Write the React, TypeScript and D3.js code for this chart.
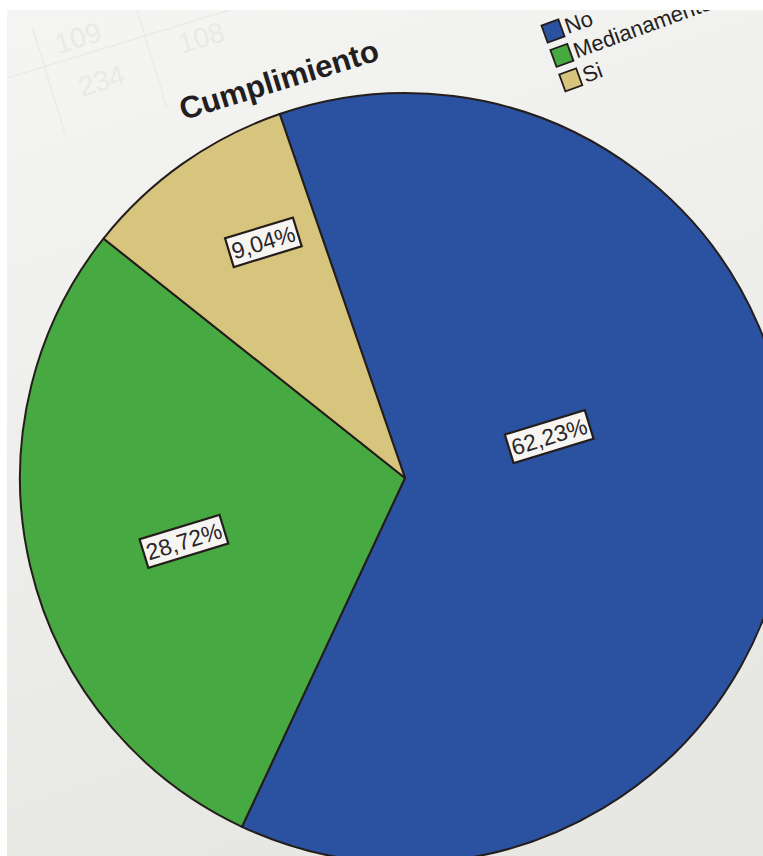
import React from "react";
import * as d3 from "d3";

const categories = ["No", "Medianamente", "Si"];
const percentages = [62.23, 28.72, 9.04];
const valueLabels = ["62,23%", "28,72%", "9,04%"];
const sliceColors = ["#2b52a1", "#47a941", "#d7c57d"];
const chartTitle = "Cumplimiento";

const W = 763;
const H = 856;
const CX = 405;
const CY = 478;
const R = 385;
const TILT = -17;
const START = -19;

// label placement (layout constants)
const labelAngles = [74, 254, 329];
const labelRadii = [150, 230, 275];

export default function App() {
  const rad = (d: number) => (d * Math.PI) / 180;
  const pie = d3
    .pie<number>()
    .value((d) => d)
    .sort(null)
    .startAngle(rad(START))
    .endAngle(rad(START + 360));
  const arcs = pie(percentages);
  const arc = d3.arc<d3.PieArcDatum<number>>().innerRadius(0).outerRadius(R);

  return (
    <svg
      width={W}
      height={H}
      style={{ position: "absolute", left: 0, top: 0 }}
      fontFamily="'Liberation Sans', Arial, sans-serif"
    >
      <defs>
        <linearGradient id="paper" x1="0" y1="0" x2="0.3" y2="1">
          <stop offset="0" stopColor="#f5f5f3" />
          <stop offset="1" stopColor="#e7e7e4" />
        </linearGradient>
      </defs>
      <rect width={W} height={H} fill="url(#paper)" />
      {/* faint show-through table */}
      <g transform={`rotate(${TILT} 100 60)`} stroke="#ebebe8" strokeWidth={1.5} fill="none">
        <line x1={0} y1={50} x2={300} y2={50} />
        <line x1={45} y1={10} x2={45} y2={125} />
        <line x1={150} y1={10} x2={150} y2={125} />
      </g>
      <g transform={`rotate(${TILT} 100 60)`} fill="#e9e9e6" fontSize={28}>
        <text x={62} y={42}>109</text>
        <text x={72} y={90}>234</text>
        <text x={180} y={78}>108</text>
      </g>

      <g transform={`translate(${CX},${CY})`}>
        {arcs.map((a, i) => (
          <path key={categories[i]} d={arc(a) || ""} fill={sliceColors[i]} stroke="#241d1b" strokeWidth={2} strokeLinejoin="round" />
        ))}
        {arcs.map((a, i) => {
          const ang = rad(labelAngles[i]);
          const x = Math.sin(ang) * labelRadii[i];
          const y = -Math.cos(ang) * labelRadii[i];
          const w = valueLabels[i].length * 12.6 + 8;
          const h = 30;
          return (
            <g key={"l" + i} transform={`translate(${x},${y}) rotate(${TILT})`}>
              <rect x={-w / 2} y={-h / 2} width={w} height={h} fill="#f7f5f2" stroke="#241d1b" strokeWidth={2.2} />
              <text x={0} y={8} textAnchor="middle" fontSize={23} fill="#2a2628">
                {valueLabels[i]}
              </text>
            </g>
          );
        })}
      </g>

      <text
        x={0}
        y={0}
        transform={`translate(282,90) rotate(${TILT})`}
        textAnchor="middle"
        fontSize={31}
        fontWeight="bold"
        fill="#231e20"
      >
        {chartTitle}
      </text>

      <g transform="translate(553,31) rotate(-20)">
        {categories.map((c, i) => (
          <g key={c} transform={`translate(0,${i * 26})`}>
            <rect x={-9} y={-9} width={18} height={18} fill={sliceColors[i]} stroke="#241d1b" strokeWidth={1.8} />
            <text x={13} y={8} fontSize={22} fill="#241f22">
              {c}
            </text>
          </g>
        ))}
      </g>

      {/* scan edges */}
      <rect x={0} y={0} width={W} height={10} fill="#ffffff" />
      <rect x={0} y={0} width={7} height={H} fill="#ffffff" />
    </svg>
  );
}
